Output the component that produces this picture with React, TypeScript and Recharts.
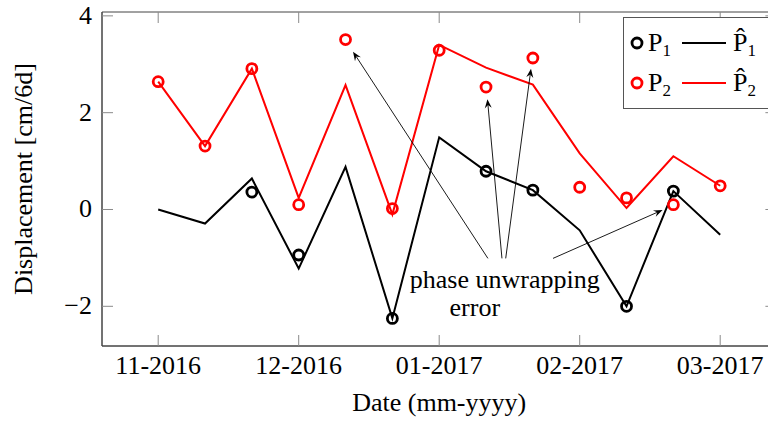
import React from "react";
import {
  LineChart,
  Line,
  XAxis,
  YAxis,
  Legend,
  ReferenceLine,
  ReferenceDot,
  ReferenceArea,
} from "recharts";

// sample index (3 per month), 11-2016 .. 03-2017
const steps = [0, 1, 2, 3, 4, 5, 6, 7, 8, 9, 10, 11, 12];
const xTicks = [0, 3, 6, 9, 12];
const xTickLabels = ["11-2016", "12-2016", "01-2017", "02-2017", "03-2017"];
const yTicks = [-2, 0, 2, 4];
const xDomain = [-1.2, 13.2];
const yDomain = [-2.82, 4.08];

const p1 = [null, null, 0.36, -0.94, null, -2.25, null, 0.79, 0.4, null, -2.0, 0.38, null];
const p1Hat = [0.0, -0.29, 0.64, -1.22, 0.88, -2.25, 1.49, 0.79, 0.4, -0.43, -2.0, 0.38, -0.52];
const p2 = [2.64, 1.31, 2.91, 0.1, 3.51, 0.02, 3.29, 2.53, 3.13, 0.46, 0.24, 0.1, 0.49];
const p2Hat = [2.64, 1.31, 2.91, 0.24, 2.57, -0.1, 3.4, 2.93, 2.58, 1.16, 0.03, 1.1, 0.49];

// annotation arrows: [fromX, fromY, toX, toY] in data units
const arrows = [
  [7.04, -1.01, 4.16, 3.26],
  [7.34, -1.01, 7.03, 2.28],
  [7.42, -1.01, 7.96, 2.91],
  [8.43, -1.01, 10.77, -0.01],
];

const data = steps.map((s, i) => ({
  t: s,
  p1: p1[i],
  p1Hat: p1Hat[i],
  p2: p2[i],
  p2Hat: p2Hat[i],
}));

const FONT = '"Liberation Serif", "Times New Roman", serif';
const FS = 26;
const TICK = "#8a8a8a";
const FRAME = "#444";
const TL = 11;

const txt = { fontFamily: FONT, fontSize: FS, fill: "#000" };

const BottomTick = (props: any) => {
  const { x, y, payload } = props;
  const idx = xTicks.indexOf(payload.value);
  return (
    <g>
      <line x1={x} x2={x} y1={y} y2={y - TL} stroke={TICK} strokeWidth={1} />
      <text x={x} y={y + 28} textAnchor="middle" style={txt}>
        {xTickLabels[idx]}
      </text>
    </g>
  );
};

const LeftTick = (props: any) => {
  const { x, y, payload } = props;
  const v = payload.value;
  const label = v < 0 ? "\u2212" + Math.abs(v) : String(v);
  return (
    <g>
      <line x1={x} x2={x + TL} y1={y} y2={y} stroke={TICK} strokeWidth={1} />
      <text x={x - 10} y={y + 8} textAnchor="end" style={txt}>
        {label}
      </text>
    </g>
  );
};

// inward tick at the top end of a vertical reference line
const TopTick = (props: any) => {
  const { x1, y1, y2 } = props;
  if (typeof x1 !== "number") return null;
  const top = Math.min(y1, y2);
  return <line x1={x1} x2={x1} y1={top} y2={top + TL} stroke={TICK} strokeWidth={1} />;
};

// inward tick at the right end of a horizontal reference line
const RightTick = (props: any) => {
  const { x1, x2, y1 } = props;
  if (typeof y1 !== "number") return null;
  const right = Math.max(x1, x2);
  return <line x1={right} x2={right - TL} y1={y1} y2={y1} stroke={TICK} strokeWidth={1} />;
};

const Arrow = (props: any) => {
  const { x1, y1, x2, y2 } = props;
  if ([x1, y1, x2, y2].some((v) => typeof v !== "number")) return null;
  const ang = Math.atan2(y2 - y1, x2 - x1);
  const len = 9;
  const w = 3.5;
  const bx = x2 - len * Math.cos(ang);
  const by = y2 - len * Math.sin(ang);
  const mx = x2 - len * 0.65 * Math.cos(ang);
  const my = y2 - len * 0.65 * Math.sin(ang);
  const px = -Math.sin(ang) * w;
  const py = Math.cos(ang) * w;
  return (
    <g>
      <line x1={x1} y1={y1} x2={mx} y2={my} stroke="#000" strokeWidth={0.9} />
      <path
        d={`M${x2},${y2} L${bx + px},${by + py} L${mx},${my} L${bx - px},${by - py} Z`}
        fill="#000"
      />
    </g>
  );
};

const Sub = ({ n }: { n: string }) => (
  <tspan fontSize={17} dy={5}>
    {n}
  </tspan>
);

const LegendBox = () => (
  <svg width={150} height={92} style={{ display: "block" }}>
    <rect x={0.5} y={0.5} width={148} height={91} fill="#fff" stroke="#555" strokeWidth={1} />
    {[
      { color: "#000", n: "1", y: 26 },
      { color: "#ff0000", n: "2", y: 66 },
    ].map((r) => (
      <g key={r.n}>
        <circle cx={14} cy={r.y} r={5} fill="none" stroke={r.color} strokeWidth={2.8} />
        <text x={25} y={r.y + 8} style={txt}>
          P<Sub n={r.n} />
        </text>
        <line x1={59} x2={103} y1={r.y} y2={r.y} stroke={r.color} strokeWidth={2} />
        <text x={110} y={r.y + 8} style={txt}>
          {"P\u0302"}
          <Sub n={r.n} />
        </text>
      </g>
    ))}
  </svg>
);

const dotStyle = (color: string) => ({
  r: 5,
  stroke: color,
  strokeWidth: 2.8,
  fill: "none",
});

export default function App() {
  return (
    <div
      style={{
        position: "absolute",
        left: 0,
        top: 0,
        width: 768,
        height: 421,
        overflow: "hidden",
        background: "#fff",
        fontFamily: FONT,
      }}
    >
      <LineChart
        width={780}
        height={421}
        data={data}
        margin={{ top: 12, right: 3.6, bottom: 0, left: 0 }}
      >
        <XAxis
          dataKey="t"
          type="number"
          domain={xDomain}
          ticks={xTicks}
          allowDataOverflow
          height={75}
          tickSize={0}
          tickMargin={0}
          tickLine={false}
          tick={<BottomTick />}
          axisLine={{ stroke: FRAME, strokeWidth: 1 }}
          label={{
            value: "Date (mm-yyyy)",
            position: "insideBottom",
            offset: 10,
            style: txt,
          }}
        />
        <YAxis
          type="number"
          domain={yDomain}
          ticks={yTicks}
          allowDataOverflow
          width={102}
          tickSize={0}
          tickMargin={0}
          tickLine={false}
          tick={<LeftTick />}
          axisLine={{ stroke: FRAME, strokeWidth: 1 }}
          label={{
            value: "Displacement [cm/6d]",
            angle: -90,
            position: "insideLeft",
            offset: 23,
            style: { ...txt, textAnchor: "middle" },
          }}
        />
        {/* plot frame */}
        <ReferenceArea
          x1={xDomain[0]}
          x2={xDomain[1]}
          y1={yDomain[0]}
          y2={yDomain[1]}
          fill="none"
          stroke={FRAME}
          strokeWidth={1}
          ifOverflow="visible"
        />
        {xTicks.map((t) => (
          <ReferenceLine key={"tx" + t} x={t} shape={<TopTick />} />
        ))}
        {yTicks.map((t) => (
          <ReferenceLine key={"ty" + t} y={t} shape={<RightTick />} />
        ))}
        <Legend
          layout="vertical"
          verticalAlign="middle"
          align="center"
          wrapperStyle={{ position: "absolute", top: 17, left: 623, width: 150 }}
          content={() => <LegendBox />}
        />
        <Line
          dataKey="p2"
          stroke="none"
          dot={dotStyle("#ff0000")}
          activeDot={false}
          isAnimationActive={false}
        />
        <Line
          dataKey="p2Hat"
          stroke="#ff0000"
          strokeWidth={2}
          dot={false}
          activeDot={false}
          isAnimationActive={false}
        />
        <Line
          dataKey="p1"
          stroke="none"
          dot={dotStyle("#000")}
          activeDot={false}
          isAnimationActive={false}
        />
        <Line
          dataKey="p1Hat"
          stroke="#000"
          strokeWidth={2}
          dot={false}
          activeDot={false}
          isAnimationActive={false}
        />
        {arrows.map((a, i) => (
          <ReferenceLine
            key={i}
            segment={[
              { x: a[0], y: a[1] },
              { x: a[2], y: a[3] },
            ]}
            ifOverflow="visible"
            shape={<Arrow />}
          />
        ))}
        <ReferenceDot
          x={7.4}
          y={-1.63}
          r={0}
          ifOverflow="visible"
          shape={(p: any) => (
            <text x={p.cx} y={p.cy} textAnchor="middle" style={txt}>
              phase unwrapping
            </text>
          )}
        />
        <ReferenceDot
          x={6.76}
          y={-2.2}
          r={0}
          ifOverflow="visible"
          shape={(p: any) => (
            <text x={p.cx} y={p.cy} textAnchor="middle" style={txt}>
              error
            </text>
          )}
        />
      </LineChart>
    </div>
  );
}
